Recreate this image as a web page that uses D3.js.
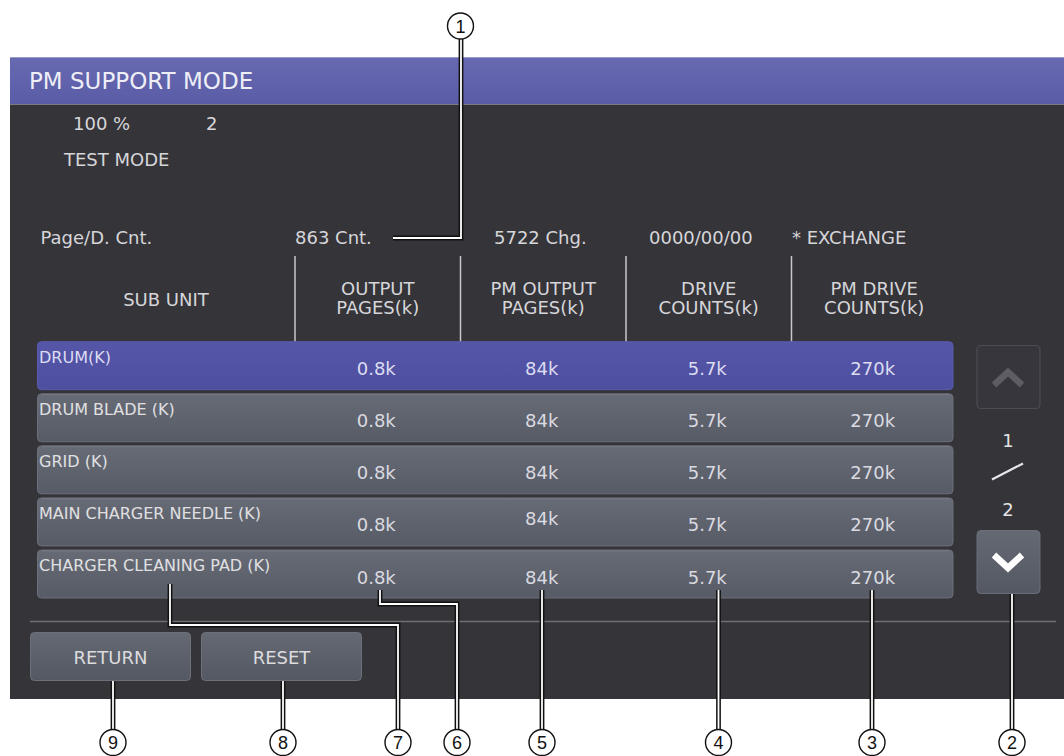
<!DOCTYPE html>
<html>
<head>
<meta charset="utf-8">
<script src="https://cdn.jsdelivr.net/npm/d3@7"></script>
<style>
  html, body { margin: 0; padding: 0; background: #ffffff; }
  svg { display: block; }
  text { font-family: "DejaVu Sans", sans-serif; }
</style>
</head>
<body>
<svg id="chart" width="1064" height="756"></svg>
<script>
// ---------------- data ----------------
const screenTitle = "PM SUPPORT MODE";
const statusLine = ["100 %", "2"];
const modeLabel = "TEST MODE";
const infoRow = ["Page/D. Cnt.", "863 Cnt.", "5722 Chg.", "0000/00/00", "* EXCHANGE"];
const subUnitHeader = "SUB UNIT";
const columnHeaders = [["OUTPUT", "PAGES(k)"], ["PM OUTPUT", "PAGES(k)"], ["DRIVE", "COUNTS(k)"], ["PM DRIVE", "COUNTS(k)"]];
const subUnits = ["DRUM(K)", "DRUM BLADE (K)", "GRID (K)", "MAIN CHARGER NEEDLE (K)", "CHARGER CLEANING PAD (K)"];
const outputPages   = ["0.8k", "0.8k", "0.8k", "0.8k", "0.8k"];
const pmOutputPages = ["84k", "84k", "84k", "84k", "84k"];
const driveCounts   = ["5.7k", "5.7k", "5.7k", "5.7k", "5.7k"];
const pmDriveCounts = ["270k", "270k", "270k", "270k", "270k"];
const pageNumbers = ["1", "2"];
const buttonLabels = ["RETURN", "RESET"];
const selectedUnit = "DRUM(K)";
const calloutNumbers = [1, 2, 3, 4, 5, 6, 7, 8, 9];

// ---------------- layout ----------------
const svg = d3.select("#chart");
const defs = svg.append("defs");

function vGrad(id, c1, c2) {
  const g = defs.append("linearGradient").attr("id", id).attr("x1", 0).attr("y1", 0).attr("x2", 0).attr("y2", 1);
  g.append("stop").attr("offset", "0%").attr("stop-color", c1);
  g.append("stop").attr("offset", "100%").attr("stop-color", c2);
}
vGrad("gTitle", "#6769b1", "#5a5ca6");
vGrad("gRow", "#676b76", "#575b66");
vGrad("gSel", "#5556a8", "#4e4f9f");
vGrad("gBtn", "#656973", "#545862");

const seriesCols = [outputPages, pmOutputPages, driveCounts, pmDriveCounts];
const colKeys = columnHeaders.map(d => d.join(" "));

const y = d3.scaleBand().domain(subUnits).range([341.7, 598]).paddingInner(0.079).paddingOuter(0);
const x = d3.scaleBand().domain(colKeys).range([295, 957]);

const screen = { x0: 10, x1: 1064, y0: 57.5, y1: 699 };

// screen background
svg.append("rect").attr("x", screen.x0).attr("y", screen.y0)
  .attr("width", screen.x1 - screen.x0).attr("height", screen.y1 - screen.y0)
  .attr("fill", "#353439");

// title bar
svg.append("rect").attr("x", screen.x0).attr("y", screen.y0)
  .attr("width", screen.x1 - screen.x0).attr("height", 46.5)
  .attr("fill", "url(#gTitle)");
svg.append("line").attr("x1", screen.x0).attr("x2", screen.x1).attr("y1", 57.5).attr("y2", 57.5)
  .attr("stroke", "#9a9cc8").attr("stroke-width", 1);
svg.append("line").attr("x1", screen.x0).attr("x2", screen.x1).attr("y1", 104.5).attr("y2", 104.5)
  .attr("stroke", "#7c7c80").attr("stroke-width", 1.2);
svg.append("text").attr("x", 29).attr("y", 89).attr("fill", "#eeeef6")
  .style("font-size", "23px").text(screenTitle);

// status lines
const textColor = "#d6d6d9";
svg.append("text").attr("x", 73).attr("y", 130).attr("fill", textColor).style("font-size", "18px").text(statusLine[0]);
svg.append("text").attr("x", 206).attr("y", 130).attr("fill", textColor).style("font-size", "18px").text(statusLine[1]);
svg.append("text").attr("x", 64).attr("y", 165.5).attr("fill", textColor).style("font-size", "18px").text(modeLabel);

// info row
const infoX = [40.5, 295, 494, 649, 792];
svg.selectAll("text.info").data(infoRow).join("text").attr("class", "info")
  .attr("x", (d, i) => infoX[i]).attr("y", 243.5).attr("fill", textColor)
  .style("font-size", "18px").text(d => d);

// column header separators
svg.selectAll("line.sep").data(colKeys).join("line").attr("class", "sep")
  .attr("x1", d => x(d)).attr("x2", d => x(d)).attr("y1", 256).attr("y2", 342)
  .attr("stroke", "#c9c9cc").attr("stroke-width", 1.5);

// headers
svg.append("text").attr("x", 166).attr("y", 305.5).attr("text-anchor", "middle")
  .attr("fill", textColor).style("font-size", "18px").text(subUnitHeader);
const hdr = svg.selectAll("text.hdr").data(columnHeaders).join("text").attr("class", "hdr")
  .attr("text-anchor", "middle").attr("fill", textColor).style("font-size", "18px");
hdr.selectAll("tspan").data((d, i) => d.map(s => ({ s, key: colKeys[i] }))).join("tspan")
  .attr("x", d => x(d.key) + x.bandwidth() / 2)
  .attr("y", (d, j) => j === 0 ? 294.5 : 314)
  .text(d => d.s);

// rows
const rowX0 = 37.5, rowX1 = 953;
const rows = svg.selectAll("g.row").data(subUnits).join("g").attr("class", "row")
  .attr("transform", d => `translate(0,${y(d)})`);
rows.append("rect").attr("x", rowX0).attr("y", 0).attr("width", rowX1 - rowX0).attr("height", y.bandwidth())
  .attr("rx", 4).attr("ry", 4)
  .attr("fill", d => d === selectedUnit ? "url(#gSel)" : "url(#gRow)")
  .attr("stroke", d => d === selectedUnit ? "#5a5bae" : "#6c707a").attr("stroke-width", 1);
rows.filter(d => d !== selectedUnit).append("line")
  .attr("x1", rowX0 + 4).attr("x2", rowX1 - 4).attr("y1", 0.8).attr("y2", 0.8)
  .attr("stroke", "#767a85").attr("stroke-width", 1);
rows.append("text").attr("x", 39).attr("y", 21)
  .attr("fill", d => d === selectedUnit ? "#dcdcf2" : "#e0e0e2")
  .style("font-size", "16px").text(d => d);

// values
const raisedCells = new Set(["3-1"]); // slightly raised text in source screen
seriesCols.forEach((col, ci) => {
  rows.append("text")
    .attr("x", x(colKeys[ci]) + x.bandwidth() / 2 - 1.5)
    .attr("y", (d, ri) => raisedCells.has(`${ri}-${ci}`) ? 27 : 33.5)
    .attr("text-anchor", "middle")
    .attr("fill", d => d === selectedUnit ? "#dcdcf2" : "#dadae0")
    .style("font-size", "18px")
    .text((d, ri) => col[ri]);
});

// separator above buttons
svg.append("line").attr("x1", 30).attr("x2", 1056).attr("y1", 621.5).attr("y2", 621.5)
  .attr("stroke", "#6e6e73").attr("stroke-width", 1.5);

// buttons
const btnX = [30.5, 201.5];
buttonLabels.forEach((lbl, i) => {
  svg.append("rect").attr("x", btnX[i]).attr("y", 632.5).attr("width", 160).attr("height", 48)
    .attr("rx", 4).attr("fill", "url(#gBtn)").attr("stroke", "#6c7079").attr("stroke-width", 1);
  svg.append("text").attr("x", btnX[i] + 80).attr("y", 663.5).attr("text-anchor", "middle")
    .attr("fill", "#dcdcdf").style("font-size", "18px").text(lbl);
});

// scroll panel
svg.append("rect").attr("x", 977).attr("y", 345.5).attr("width", 63).attr("height", 63).attr("rx", 4)
  .attr("fill", "#37363c").attr("stroke", "#4c4c53").attr("stroke-width", 1.2);
svg.append("path").attr("d", "M994,385 L1008,372 L1022,385").attr("fill", "none")
  .attr("stroke", "#5d5d63").attr("stroke-width", 6.5).attr("stroke-linejoin", "miter");
svg.append("text").attr("x", 1008).attr("y", 447).attr("text-anchor", "middle").attr("fill", "#e4e4e6")
  .style("font-size", "18px").text(pageNumbers[0]);
svg.append("line").attr("x1", 992).attr("y1", 479.5).attr("x2", 1023).attr("y2", 463.5)
  .attr("stroke", "#e8e8ea").attr("stroke-width", 2.2);
svg.append("text").attr("x", 1008).attr("y", 516).attr("text-anchor", "middle").attr("fill", "#e4e4e6")
  .style("font-size", "18px").text(pageNumbers[1]);
svg.append("rect").attr("x", 977).attr("y", 530.5).attr("width", 63).attr("height", 63).attr("rx", 4)
  .attr("fill", "url(#gBtn)").attr("stroke", "#6a6e78").attr("stroke-width", 1);
svg.append("path").attr("d", "M994,555 L1008,568 L1022,555").attr("fill", "none")
  .attr("stroke", "#ffffff").attr("stroke-width", 6.5).attr("stroke-linejoin", "miter");

// ---------------- callouts ----------------
const cR = 13, cY = 742.5;
const calloutPaths = {
  1: "M393,238 H461 V39",
  2: `M1012,594 V${cY - cR}`,
  3: `M872,590 V${cY - cR}`,
  4: `M718.5,590 V${cY - cR}`,
  5: `M542,590 V${cY - cR}`,
  6: `M380,590 V604 H457 V${cY - cR}`,
  7: `M170,584 V625 H398 V${cY - cR}`,
  8: `M283,681 V${cY - cR}`,
  9: `M113,681 V${cY - cR}`
};
const calloutCenters = {
  1: [460.5, 26], 2: [1012, cY], 3: [872, cY], 4: [718.5, cY], 5: [542, cY],
  6: [457, cY], 7: [398, cY], 8: [283, cY], 9: [113, cY]
};
const cg = svg.append("g");
calloutNumbers.forEach(n => {
  cg.append("path").attr("d", calloutPaths[n]).attr("fill", "none")
    .attr("stroke", "#111111").attr("stroke-width", 4.8).attr("stroke-linejoin", "miter");
  cg.append("path").attr("d", calloutPaths[n]).attr("fill", "none")
    .attr("stroke", "#ffffff").attr("stroke-width", 1.8).attr("stroke-linejoin", "miter");
});
calloutNumbers.forEach(n => {
  const [cx, cy] = calloutCenters[n];
  cg.append("circle").attr("cx", cx).attr("cy", cy).attr("r", cR)
    .attr("fill", "#ffffff").attr("stroke", "#111111").attr("stroke-width", 1.4);
  cg.append("text").attr("x", cx).attr("y", cy + 6.5).attr("text-anchor", "middle")
    .attr("fill", "#111111").style("font-family", "'Liberation Sans', Arial, sans-serif")
    .style("font-size", "18px").text(n);
});
</script>
</body>
</html>
